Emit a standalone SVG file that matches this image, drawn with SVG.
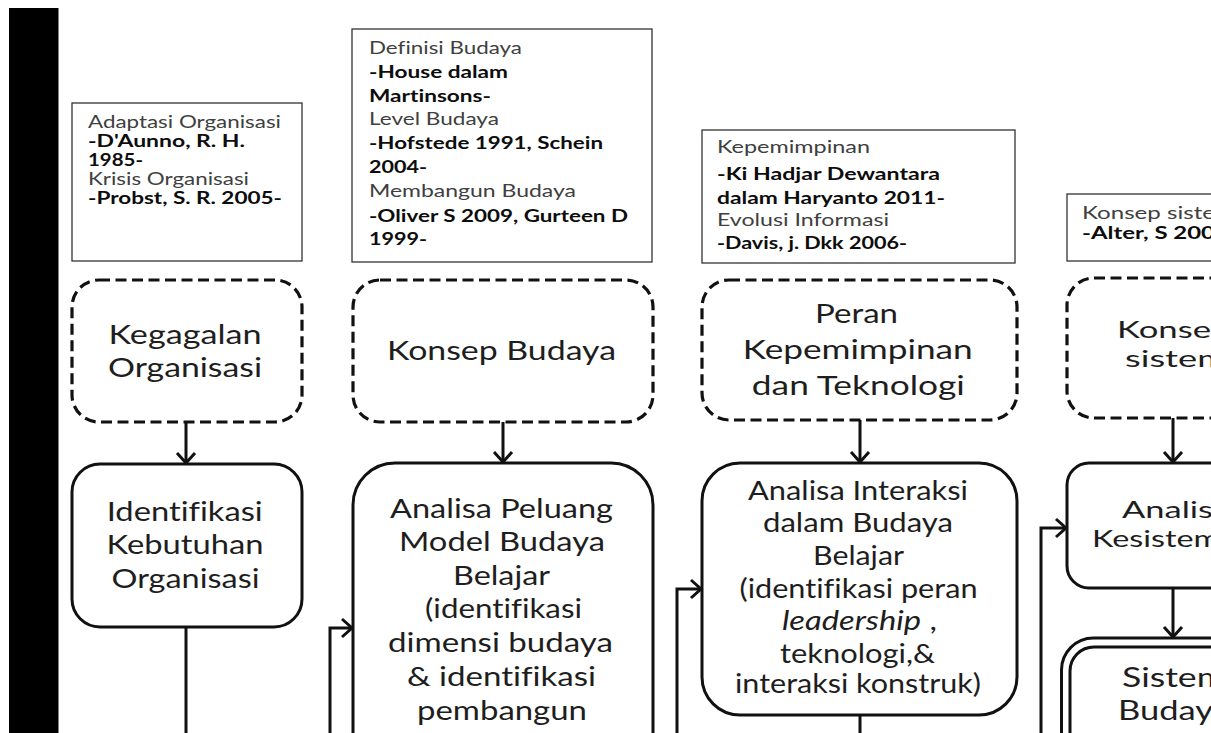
<svg xmlns="http://www.w3.org/2000/svg" width="1211" height="733" viewBox="0 0 1211 733">
<defs>
<style>
.ref{fill:#fff;stroke:#333;stroke-width:1.3}
.dash{fill:#fff;stroke:#111;stroke-width:3.2;stroke-dasharray:11 5.5}
.node{fill:#fff;stroke:#111;stroke-width:3}
.conn{fill:none;stroke:#111;stroke-width:3}
.t{font-family:Lato,"Open Sans","Liberation Sans",sans-serif;fill:#1e1e1e;font-variant-ligatures:none}
.r{font-size:16.5px;fill:#404040}
.b{font-size:16.5px;font-weight:700;fill:#0d0d0d}
.n{font-size:27.5px;text-anchor:middle}
.nd{font-size:23px}
</style>
<marker id="ah" markerUnits="userSpaceOnUse" markerWidth="26" markerHeight="26" viewBox="-13 -13 26 26" refX="0" refY="0" orient="auto">
<path d="M-10,-9 L0,0 L-10,9" fill="none" stroke="#111" stroke-width="3"/>
</marker>
</defs>
<rect x="0" y="0" width="1211" height="733" fill="#fff"/>
<rect x="9" y="8" width="49.5" height="725" fill="#000"/>

<g id="ref1">
<rect class="ref" x="72" y="103" width="230" height="158"/>
<text class="t r" x="88" y="128" textLength="193" lengthAdjust="spacingAndGlyphs">Adaptasi Organisasi</text>
<text class="t b" x="88" y="147" textLength="157" lengthAdjust="spacingAndGlyphs">-D'Aunno, R. H.</text>
<text class="t b" x="88" y="166" textLength="55" lengthAdjust="spacingAndGlyphs">1985-</text>
<text class="t r" x="88" y="184.5" textLength="161" lengthAdjust="spacingAndGlyphs">Krisis Organisasi</text>
<text class="t b" x="88" y="204" textLength="194" lengthAdjust="spacingAndGlyphs">-Probst, S. R. 2005-</text>
</g>

<g id="ref2">
<rect class="ref" x="352" y="29" width="300" height="233"/>
<text class="t r" x="369" y="54" textLength="153" lengthAdjust="spacingAndGlyphs">Definisi Budaya</text>
<text class="t b" x="369" y="77.5" textLength="139" lengthAdjust="spacingAndGlyphs">-House dalam</text>
<text class="t b" x="369" y="101.5" textLength="122" lengthAdjust="spacingAndGlyphs">Martinsons-</text>
<text class="t r" x="369" y="124.5" textLength="130" lengthAdjust="spacingAndGlyphs">Level Budaya</text>
<text class="t b" x="369" y="149" textLength="234" lengthAdjust="spacingAndGlyphs">-Hofstede 1991, Schein</text>
<text class="t b" x="369" y="173" textLength="58" lengthAdjust="spacingAndGlyphs">2004-</text>
<text class="t r" x="369" y="196.5" textLength="207" lengthAdjust="spacingAndGlyphs">Membangun Budaya</text>
<text class="t b" x="369" y="221.5" textLength="259" lengthAdjust="spacingAndGlyphs">-Oliver S 2009, Gurteen D</text>
<text class="t b" x="369" y="244.5" textLength="58" lengthAdjust="spacingAndGlyphs">1999-</text>
</g>

<g id="ref3">
<rect class="ref" x="702" y="130" width="313" height="133"/>
<text class="t r" x="717" y="153" textLength="153" lengthAdjust="spacingAndGlyphs">Kepemimpinan</text>
<text class="t b" x="717" y="180" textLength="223" lengthAdjust="spacingAndGlyphs">-Ki Hadjar Dewantara</text>
<text class="t b" x="717" y="204" textLength="228" lengthAdjust="spacingAndGlyphs">dalam Haryanto 2011-</text>
<text class="t r" x="717" y="225.5" textLength="172" lengthAdjust="spacingAndGlyphs">Evolusi Informasi</text>
<text class="t b" x="717" y="249" textLength="190" lengthAdjust="spacingAndGlyphs">-Davis, j. Dkk 2006-</text>
</g>

<g id="ref4">
<rect class="ref" x="1067" y="194" width="200" height="67"/>
<text class="t r" x="1082" y="218.5" textLength="133" lengthAdjust="spacingAndGlyphs">Konsep siste</text>
<text class="t b" x="1082" y="238.5" textLength="133" lengthAdjust="spacingAndGlyphs">-Alter, S 200</text>
</g>

<g id="kegagalan">
<rect class="dash" x="72" y="280" width="230" height="142" rx="27"/>
<text class="t n" x="185" y="344" textLength="153" lengthAdjust="spacingAndGlyphs">Kegagalan</text>
<text class="t n" x="185" y="377" textLength="154" lengthAdjust="spacingAndGlyphs">Organisasi</text>
</g>

<g id="konsep-budaya">
<rect class="dash" x="353" y="280" width="300" height="142" rx="27"/>
<text class="t n" x="501.5" y="360" textLength="229" lengthAdjust="spacingAndGlyphs">Konsep Budaya</text>
</g>

<g id="peran">
<rect class="dash" x="702" y="280" width="315" height="140" rx="27"/>
<text class="t n" x="856.5" y="323" textLength="83" lengthAdjust="spacingAndGlyphs">Peran</text>
<text class="t n" x="857.7" y="359" textLength="230" lengthAdjust="spacingAndGlyphs">Kepemimpinan</text>
<text class="t n" x="858.3" y="395" textLength="213" lengthAdjust="spacingAndGlyphs">dan Teknologi</text>
</g>

<g id="konsep-sistem">
<rect class="dash" x="1067" y="278" width="230" height="140" rx="27"/>
<text class="t nd" x="1117" y="338" textLength="94" lengthAdjust="spacingAndGlyphs">Konse</text>
<text class="t nd" x="1125" y="367" textLength="102" lengthAdjust="spacingAndGlyphs">sistem</text>
</g>

<g id="identifikasi">
<rect class="node" x="72" y="464" width="230" height="163" rx="28"/>
<text class="t n" x="184.7" y="521" textLength="156" lengthAdjust="spacingAndGlyphs">Identifikasi</text>
<text class="t n" x="185" y="554" textLength="157" lengthAdjust="spacingAndGlyphs">Kebutuhan</text>
<text class="t n" x="185.5" y="588" textLength="148" lengthAdjust="spacingAndGlyphs">Organisasi</text>
</g>

<g id="analisa-peluang">
<rect class="node" x="353" y="463" width="300" height="360" rx="42"/>
<text class="t n" x="501.5" y="518" textLength="223" lengthAdjust="spacingAndGlyphs">Analisa Peluang</text>
<text class="t n" x="502" y="551" textLength="206" lengthAdjust="spacingAndGlyphs">Model Budaya</text>
<text class="t n" x="501.5" y="585" textLength="97" lengthAdjust="spacingAndGlyphs">Belajar</text>
<text class="t n" x="503.5" y="618" textLength="157" lengthAdjust="spacingAndGlyphs">(identifikasi</text>
<text class="t n" x="500.5" y="652" textLength="225" lengthAdjust="spacingAndGlyphs">dimensi budaya</text>
<text class="t n" x="501.5" y="686" textLength="189" lengthAdjust="spacingAndGlyphs">&amp; identifikasi</text>
<text class="t n" x="502" y="720" textLength="170" lengthAdjust="spacingAndGlyphs">pembangun</text>
</g>

<g id="analisa-interaksi">
<rect class="node" x="702" y="463" width="315" height="252" rx="38"/>
<text class="t n" x="858" y="500" textLength="220" lengthAdjust="spacingAndGlyphs">Analisa Interaksi</text>
<text class="t n" x="858" y="532" textLength="190" lengthAdjust="spacingAndGlyphs">dalam Budaya</text>
<text class="t n" x="858.5" y="565" textLength="91" lengthAdjust="spacingAndGlyphs">Belajar</text>
<text class="t n" x="858.5" y="598" textLength="238" lengthAdjust="spacingAndGlyphs">(identifikasi peran</text>
<text class="t n" x="859.5" y="630" textLength="155" lengthAdjust="spacingAndGlyphs"><tspan font-style="italic">leadership</tspan> ,</text>
<text class="t n" x="857.5" y="663" textLength="155" lengthAdjust="spacingAndGlyphs">teknologi,&amp;</text>
<text class="t n" x="858" y="693" textLength="246" lengthAdjust="spacingAndGlyphs">interaksi konstruk)</text>
</g>

<g id="analisa-kesisteman">
<rect class="node" x="1067" y="463" width="230" height="125" rx="22"/>
<text class="t nd" x="1122" y="518" textLength="91" lengthAdjust="spacingAndGlyphs">Analis</text>
<text class="t nd" x="1092" y="546.5" textLength="128" lengthAdjust="spacingAndGlyphs">Kesistem</text>
</g>

<g id="sistem-budaya">
<rect class="node" x="1061.5" y="638" width="240" height="200" rx="32"/>
<rect class="node" x="1070" y="647" width="230" height="190" rx="24"/>
<text class="t nd" x="1122" y="687" style="font-size:26px" textLength="104" lengthAdjust="spacingAndGlyphs">Sistem</text>
<text class="t nd" x="1118" y="720" style="font-size:26px" textLength="95" lengthAdjust="spacingAndGlyphs">Buday</text>
</g>

<g id="connectors">
<path class="conn" d="M186,422 V463" marker-end="url(#ah)"/>
<path class="conn" d="M503,422 V462" marker-end="url(#ah)"/>
<path class="conn" d="M860,420 V462" marker-end="url(#ah)"/>
<path class="conn" d="M1173,418 V462" marker-end="url(#ah)"/>
<path class="conn" d="M1173,588 V637" marker-end="url(#ah)"/>
<path class="conn" d="M186,627 V733"/>
<path class="conn" d="M330,733 V628 H352" marker-end="url(#ah)"/>
<path class="conn" d="M677,733 V589 H701" marker-end="url(#ah)"/>
<path class="conn" d="M860,715 V733"/>
<path class="conn" d="M1041,733 V528 H1066" marker-end="url(#ah)"/>
</g>
</svg>
